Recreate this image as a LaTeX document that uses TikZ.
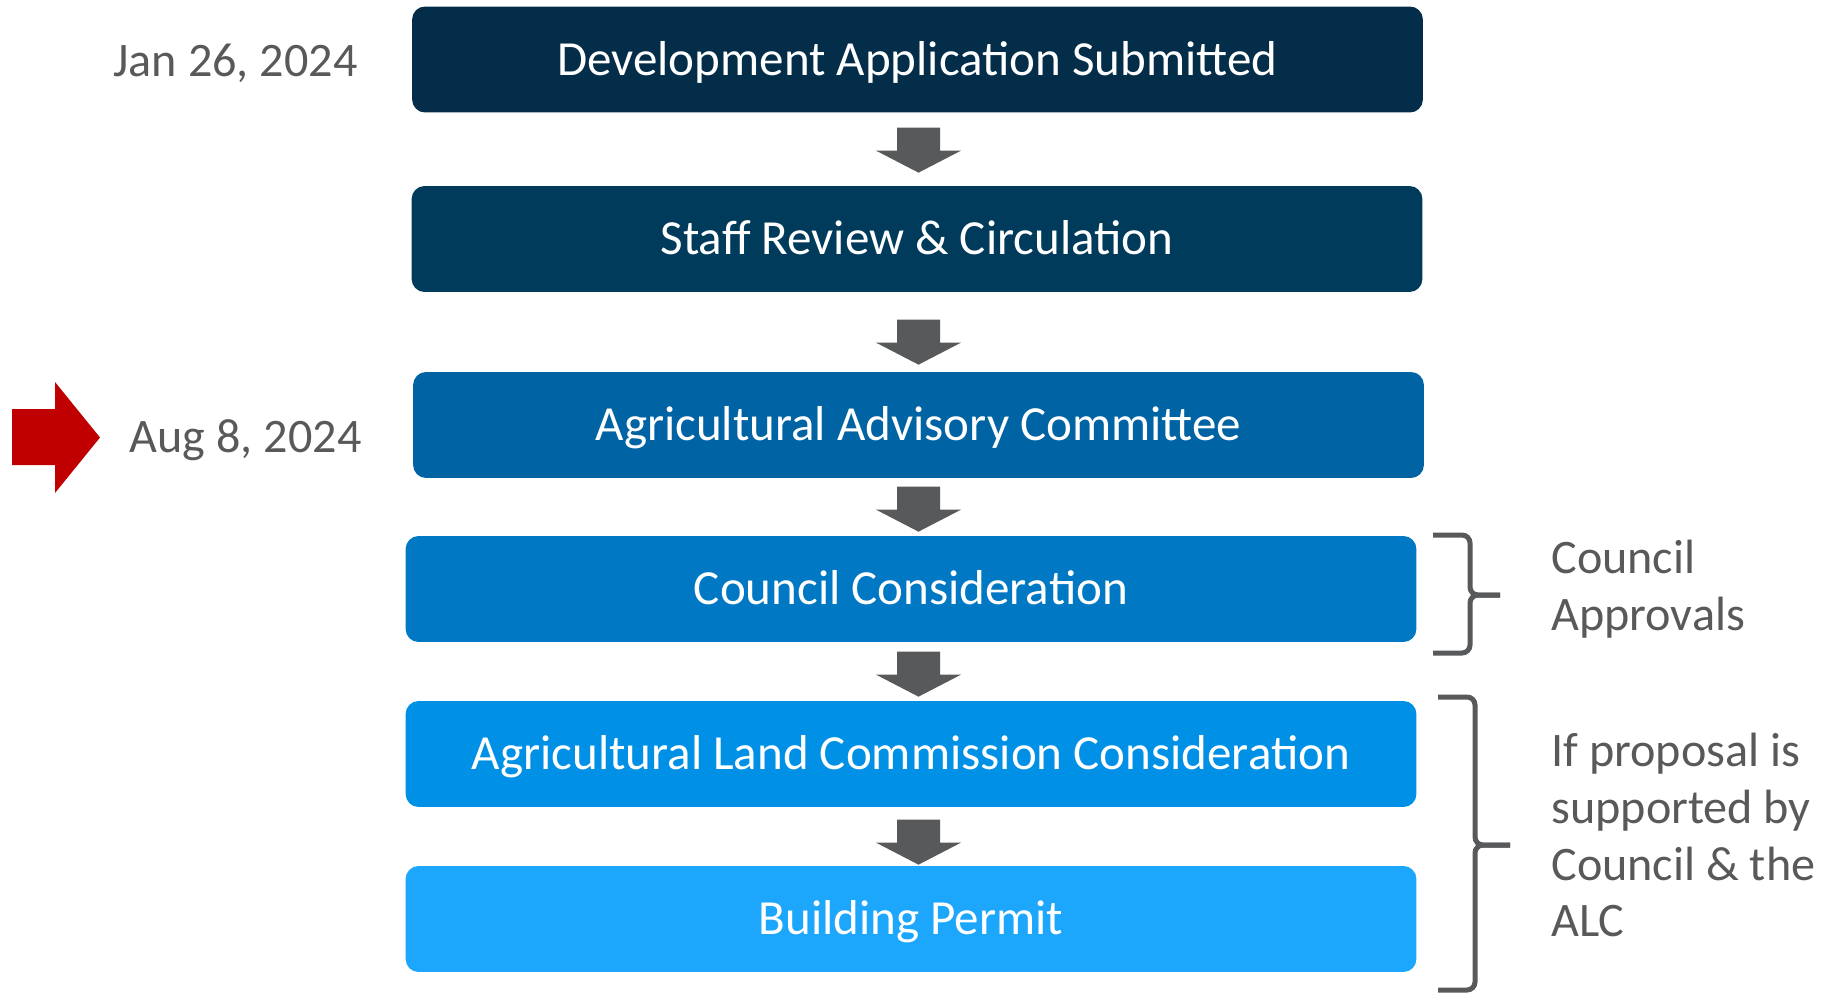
\documentclass[tikz,border=0pt]{standalone}
\usepackage{fontspec}
\setmainfont{Carlito}
\usetikzlibrary{calc, positioning}

\definecolor{boxA}{HTML}{032D48}
\definecolor{boxB}{HTML}{003B5C}
\definecolor{boxC}{HTML}{0063A3}
\definecolor{boxD}{HTML}{0078C4}
\definecolor{boxE}{HTML}{0091E6}
\definecolor{boxF}{HTML}{1CA6FC}
\definecolor{labelgray}{HTML}{595959}
\definecolor{arrowgray}{HTML}{58595B}
\definecolor{markred}{HTML}{C00000}

\begin{document}
\begin{tikzpicture}[x=0.02cm, y=0.02cm]
	\tikzset{
		stepbox/.style = {fill=#1, rounded corners=0.26cm, minimum width=20.22cm, minimum height=2.12cm, inner sep=0pt, text height=0.63cm, text depth=0pt, text=white, font={\fontsize{27.9}{32}\selectfont}},
		datelabel/.style = {text=labelgray, inner sep=0pt, font={\fontsize{27.4}{32}\selectfont}},
		notelabel/.style = {text=labelgray, inner sep=0pt, align=left, anchor=west, font={\fontsize{27.4}{32.4}\selectfont}},
		downarrow/.style = {fill=arrowgray},
		bbrace/.style = {draw=arrowgray, line width=0.1cm, rounded corners=0.16cm},
	}
	\useasboundingbox (0,0) rectangle (1829,-993);

	% process steps
	\node[stepbox=boxA] (dev) at (917.5,-59.5) {Development Application Submitted};
	\node[stepbox=boxB] (staff) at (917,-239) {Staff Review \& Circulation};
	\node[stepbox=boxC] (aac) at (918.5,-425) {Agricultural Advisory Committee};
	\node[stepbox=boxD] (council) at (911,-589) {Council Consideration};
	\node[stepbox=boxE] (alc) at (911,-754) {Agricultural Land Commission Consideration};
	\node[stepbox=boxF] (bp) at (911,-919) {Building Permit};

	\foreach \b/\g in {staff/13, aac/7, council/4, alc/4, bp/1}
		{
			\fill[downarrow] ($(aac.south |- \b.north)+(0,\g)$) -- ++(42.5,22) -- ++(-21,0) -- ++(0,23) -- ++(-43,0) -- ++(0,-23) -- ++(-21,0) -- cycle;
		}

	% dates
	\node[datelabel, left=1.08cm of dev.west, anchor=base east, yshift=-0.35cm] (jan) {Jan 26, 2024};
	\node[datelabel, left=1.02cm of aac.west, anchor=base east, yshift=-0.55cm] (aug) {Aug 8, 2024};

	\fill[markred] (12,-409) -- (55,-409) -- (55,-382) -- (100,-437.5) -- (55,-493) -- (55,-465) -- (12,-465) -- cycle;

	% braces and notes
	\draw[bbrace] (1433,-535) -- (1470,-535) -- (1470,-595) -- (1500,-595);
	\draw[bbrace] (1500,-595) -- (1470,-595) -- (1470,-653) -- (1433,-653);
	\draw[bbrace] (1438,-697) -- (1475,-697) -- (1475,-845) -- (1510,-845);
	\draw[bbrace] (1510,-845) -- (1475,-845) -- (1475,-990) -- (1438,-990);

	\node[notelabel] (approvals) at (1551,-589) {Council\\Approvals};
	\node[notelabel] (support) at (1551,-835) {If proposal is\\supported by\\Council \& the\\ALC};

\end{tikzpicture}
\end{document}
